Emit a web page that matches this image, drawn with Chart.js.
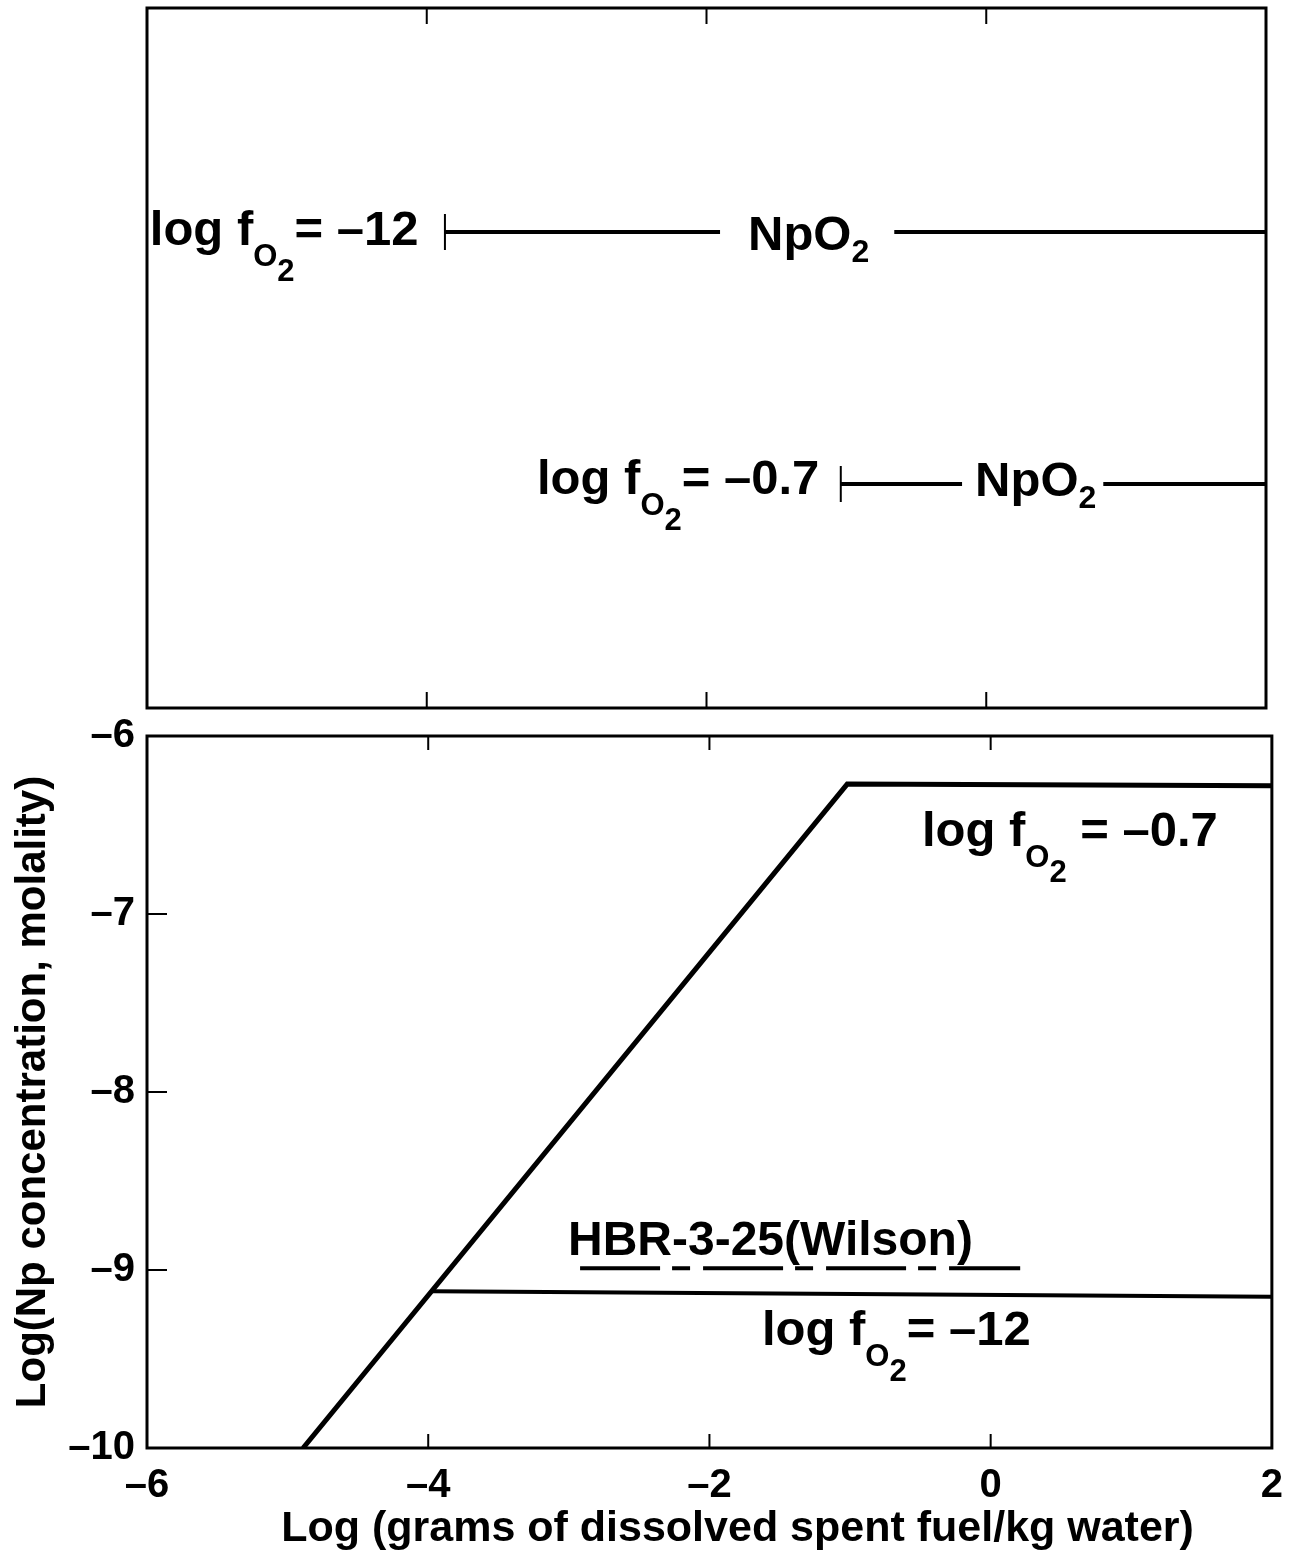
<!DOCTYPE html>
<html>
<head>
<meta charset="utf-8">
<script src="https://cdn.jsdelivr.net/npm/chart.js@4.4.1/dist/chart.umd.min.js"></script>
<style>
  body { margin: 0; background: #fff; }
  #wrap { position: relative; width: 1289px; height: 1553px; }
  canvas { position: absolute; left: 0; }
  #top { top: 0; }
  #bottom { top: 708px; }
</style>
</head>
<body>
<div id="wrap">
  <canvas id="top" width="1289" height="720"></canvas>
  <canvas id="bottom" width="1289" height="845"></canvas>
</div>
<script>
"use strict";

const FONT = "'Liberation Sans', Arial, Helvetica, sans-serif";

// bottom panel: Np concentration vs dissolved spent fuel
const xTicks = [-6, -4, -2, 0, 2];
const yTicks = [-10, -9, -8, -7, -6];
const highO2X = [-4.89, -1.02, 2];
const highO2Y = [-10, -6.27, -6.28];
const lowO2X = [-3.97, 2];
const lowO2Y = [-9.12, -9.15];
const wilsonX = [-2.92, 0.21];
const wilsonY = [-8.99, -8.99];

// top panel: range over which NpO2 is the controlling phase
const npo2LowX = [-3.87, 2];   // log fO2 = -12
const npo2HighX = [-1.04, 2];  // log fO2 = -0.7
const rowLow = 0.68;
const rowHigh = 0.32;

const xTitle = "Log (grams of dissolved spent fuel/kg water)";
const yTitle = "Log(Np concentration, molality)";

const pts = (xs, ys) => xs.map((x, i) => ({ x, y: Array.isArray(ys) ? ys[i] : ys }));
const minus = (v) => (v < 0 ? "\u2013" + Math.abs(v) : String(v));

// "log f" with O and 2 dropping below, then the value
const fo2 = (val, sp) => [["log f", 0, 49], ["O", 21, 31], ["2", 36, 31], [sp + "= \u2013" + val, 0, 49]];
const npo2 = [["NpO", 0, 49], ["2", 12, 32]];

function drawRich(ctx, x, y, parts, bg) {
  let w = 0;
  parts.forEach(([t, , size]) => {
    ctx.font = "bold " + size + "px " + FONT;
    w += ctx.measureText(t).width;
  });
  if (bg) {
    ctx.fillStyle = "#fff";
    ctx.fillRect(x - bg[0], y - 45, w + bg[0] + bg[1], 70);
  }
  ctx.fillStyle = "#000";
  let cx = x;
  parts.forEach(([t, dy, size]) => {
    ctx.font = "bold " + size + "px " + FONT;
    ctx.fillText(t, cx, y + dy);
    cx += ctx.measureText(t).width;
  });
}

function framePlugin(opts) {
  return {
    id: "frame",
    afterDatasetsDraw(chart) {
      const { ctx, chartArea: a, scales } = chart;
      ctx.save();
      ctx.strokeStyle = "#000";
      ctx.lineWidth = 3;
      ctx.strokeRect(a.left, a.top, a.right - a.left, a.bottom - a.top);
      ctx.lineWidth = 2;
      ctx.beginPath();
      opts.xMarks.forEach((v) => {
        const px = scales.x.getPixelForValue(v);
        ctx.moveTo(px, a.top);
        ctx.lineTo(px, a.top + opts.len);
        ctx.moveTo(px, a.bottom);
        ctx.lineTo(px, a.bottom - opts.len);
      });
      (opts.yMarks || []).forEach((v) => {
        const py = scales.y.getPixelForValue(v);
        ctx.moveTo(a.left, py);
        ctx.lineTo(a.left + 20, py);
      });
      ctx.stroke();
      ctx.restore();
    },
  };
}

function labelPlugin(labels) {
  return {
    id: "labels",
    afterDatasetsDraw(chart) {
      const { ctx, scales } = chart;
      ctx.save();
      ctx.textBaseline = "alphabetic";
      ctx.textAlign = "left";
      labels.forEach((l) => {
        drawRich(ctx, scales.x.getPixelForValue(l.x), scales.y.getPixelForValue(l.y), l.parts, l.bg);
      });
      ctx.restore();
    },
  };
}

// x axis title sits a little right of the plot centre in the original
const xTitlePlugin = {
  id: "xTitle",
  afterDraw(chart) {
    const { ctx, scales } = chart;
    ctx.save();
    ctx.fillStyle = "#000";
    ctx.font = "bold 43px " + FONT;
    ctx.textAlign = "center";
    ctx.textBaseline = "alphabetic";
    ctx.fillText(xTitle, scales.x.getPixelForValue(-1.8), chart.height - 12);
    ctx.restore();
  },
};

const lineStyle = { borderColor: "#000", pointRadius: 0, fill: false, tension: 0 };

// ---- top panel
new Chart(document.getElementById("top"), {
  type: "line",
  data: {
    datasets: [
      {
        ...lineStyle,
        data: pts(npo2LowX, rowLow),
        borderWidth: 4,
        pointStyle: "line",
        rotation: 90,
        pointRadius: [18, 0],
        pointBorderWidth: 2,
        pointBorderColor: "#000",
      },
      {
        ...lineStyle,
        data: pts(npo2HighX, rowHigh),
        borderWidth: 4,
        pointStyle: "line",
        rotation: 90,
        pointRadius: [18, 0],
        pointBorderWidth: 2,
        pointBorderColor: "#000",
      },
    ],
  },
  options: {
    responsive: false,
    animation: false,
    layout: { autoPadding: false, padding: { left: 147, right: 23, top: 8, bottom: 12 } },
    plugins: { legend: { display: false }, tooltip: { enabled: false } },
    scales: {
      x: { type: "linear", min: -6, max: 2, display: false },
      y: { type: "linear", min: 0, max: 1, display: false },
    },
  },
  plugins: [
    framePlugin({ xMarks: [-4, -2, 0], len: 16 }),
    labelPlugin([
      { x: -5.98, y: 0.661, parts: fo2("12", "") },
      { x: -1.703, y: 0.654, parts: npo2, bg: [28, 25] },
      { x: -3.212, y: 0.306, parts: fo2("0.7", "") },
      { x: -0.08, y: 0.303, parts: npo2, bg: [13, 7] },
    ]),
  ],
});

// ---- bottom panel
new Chart(document.getElementById("bottom"), {
  type: "line",
  data: {
    datasets: [
      { ...lineStyle, data: pts(highO2X, highO2Y), borderWidth: 5 },
      { ...lineStyle, data: pts(lowO2X, lowO2Y), borderWidth: 4 },
      { ...lineStyle, data: pts(wilsonX, wilsonY), borderWidth: 4, borderDash: [80, 12, 18, 13] },
    ],
  },
  options: {
    responsive: false,
    animation: false,
    layout: { autoPadding: false, padding: { left: 0, right: 17, top: 15, bottom: 0 } },
    plugins: { legend: { display: false }, tooltip: { enabled: false } },
    scales: {
      x: {
        type: "linear",
        min: -6,
        max: 2,
        afterBuildTicks: (s) => { s.ticks = xTicks.map((v) => ({ value: v })); },
        afterFit: (s) => { s.height = 105; },
        grid: { display: false },
        border: { display: false },
        ticks: { color: "#000", font: { family: FONT, size: 40, weight: "bold" }, padding: 6, maxRotation: 0, callback: minus },
      },
      y: {
        type: "linear",
        min: -10,
        max: -6,
        afterBuildTicks: (s) => { s.ticks = yTicks.map((v) => ({ value: v })); },
        afterFit: (s) => { s.width = 147; },
        grid: { display: false },
        border: { display: false },
        ticks: { color: "#000", font: { family: FONT, size: 40, weight: "bold" }, padding: 4, callback: minus },
        title: {
          display: true,
          text: yTitle,
          color: "#000",
          font: { family: FONT, size: 42, weight: "bold" },
          padding: { top: 8, bottom: 0 },
        },
      },
    },
  },
  plugins: [
    framePlugin({ xMarks: [-4, -2, 0], yMarks: [-9, -8, -7], len: 14 }),
    labelPlugin([
      { x: -0.489, y: -6.617, parts: fo2("0.7", " ") },
      { x: -1.627, y: -9.422, parts: fo2("12", "") },
      { x: -3.006, y: -8.917, parts: [["HBR-3-25(Wilson)", 0, 48]] },
    ]),
    xTitlePlugin,
  ],
});
</script>
</body>
</html>
